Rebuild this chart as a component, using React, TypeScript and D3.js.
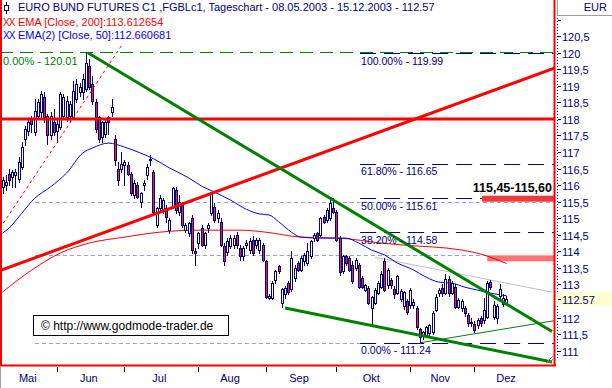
import React from "react";
import * as d3 from "d3";

// ---------- DATA ----------
const opens = [
  115.95, 116.0, 116.35, 116.25, 116.3, 116.2, 116.55, 117.4, 117.65, 118.0,
  117.6, 118.1, 118.2, 118.65, 118.1, 117.5, 117.9, 117.65, 117.75, 118.1,
  118.05, 118.1, 118.05, 118.6, 118.8, 118.8, 118.9, 119.6, 119.05, 118.5,
  118.05, 117.45, 117.55, 118.05, 118.2, 117.4, 116.5, 116.5, 116.6, 116.6,
  116.35, 115.7, 116.0, 115.5, 116.0, 116.3, 116.75, 116.4, 114.8, 115.3,
  115.25, 115.3, 114.65, 115.35, 115.85, 115.2, 115.45, 114.65, 114.55, 115.0,
  114.0, 114.25, 114.7, 114.2, 114.7, 115.15, 115.35, 115.0, 114.9, 114.15,
  113.98, 114.15, 114.2, 114.5, 114.1, 113.85, 114.2, 114.05, 114.35, 114.2,
  114.05, 114.2, 113.7, 112.6, 112.6, 113.15, 113.55, 112.45, 112.7, 113.05,
  112.85, 113.2, 113.65, 113.45, 113.7, 113.65, 113.85, 114.4, 114.55, 114.5,
  115.05, 114.95, 115.0, 115.3, 115.2, 114.4, 113.4, 113.85, 113.8, 113.6,
  113.5, 113.6, 113.2, 112.83, 112.88, 112.28, 112.43, 112.75, 112.93, 113.72,
  112.98, 113.13, 112.85, 112.75, 112.55, 112.35, 112.5, 112.38, 112.38, 112.28,
  111.67, 111.47, 111.47, 111.52, 111.57, 112.23, 112.73, 112.88, 112.73, 113.18,
  112.73, 112.93, 112.33, 112.3, 112.28, 112.08, 111.83, 111.82, 111.78, 111.98,
  111.93, 112.03, 113.08, 112.03, 112.0, 112.65, 112.4, 112.45,
];
const highs = [
  116.25, 116.3, 116.5, 116.45, 116.5, 116.85, 117.3, 117.8, 118.0, 118.1,
  118.6, 118.6, 118.85, 118.8, 118.15, 118.2, 118.3, 118.0, 118.8, 118.75,
  118.7, 118.55, 119.15, 119.2, 119.1, 119.35, 120.01, 119.8, 119.3, 118.6,
  118.1, 117.95, 118.0, 118.1, 118.6, 117.5, 116.7, 117.0, 116.75, 116.7,
  116.4, 116.15, 116.1, 115.8, 116.15, 116.65, 116.9, 116.45, 115.35, 115.7,
  115.6, 115.4, 115.0, 115.95, 115.95, 115.7, 115.5, 114.85, 114.9, 115.1,
  114.1, 114.6, 114.8, 114.6, 114.85, 115.8, 115.45, 115.25, 115.0, 114.25,
  114.4, 114.5, 114.5, 114.6, 114.2, 114.15, 114.35, 114.4, 114.45, 114.4,
  114.4, 114.25, 113.75, 112.7, 113.1, 113.45, 113.6, 112.9, 112.95, 113.1,
  114.0, 113.6, 113.7, 113.85, 113.95, 114.25, 114.35, 114.55, 114.6, 115.05,
  115.1, 115.3, 115.55, 115.6, 115.25, 114.45, 113.9, 113.9, 113.85, 113.7,
  113.8, 113.65, 113.25, 113.0, 112.95, 112.65, 112.9, 113.1, 113.4, 113.8,
  113.5, 113.2, 112.95, 113.3, 112.85, 112.8, 112.55, 112.9, 112.55, 112.35,
  111.7, 111.6, 111.75, 111.8, 112.2, 112.7, 112.9, 113.0, 113.33, 113.25,
  113.1, 113.0, 112.6, 112.55, 112.35, 112.15, 112.0, 111.9, 112.0, 112.05,
  112.6, 113.1, 113.13, 112.5, 112.4, 113.0, 112.7, 112.65,
];
const lows = [
  115.75, 115.85, 116.0, 115.95, 115.95, 116.1, 116.5, 117.2, 117.5, 117.6,
  117.5, 118.0, 118.05, 117.9, 117.25, 117.4, 117.5, 117.3, 117.7, 118.0,
  117.95, 117.95, 118.0, 118.5, 118.7, 118.6, 118.85, 118.9, 118.45, 117.6,
  117.3, 117.3, 117.45, 117.55, 118.1, 116.6, 116.0, 116.4, 116.0, 116.3,
  115.7, 115.6, 115.6, 115.33, 115.85, 116.2, 116.6, 115.1, 114.75, 115.2,
  115.15, 114.9, 114.55, 115.3, 115.15, 115.1, 114.75, 114.6, 114.45, 113.95,
  113.6, 114.1, 114.15, 114.1, 114.6, 115.1, 114.9, 114.9, 114.15, 113.6,
  113.9, 114.1, 114.1, 114.1, 113.75, 113.75, 114.1, 113.95, 113.9, 114.1,
  113.95, 113.7, 112.6, 112.55, 112.55, 113.05, 113.35, 112.33, 112.6, 112.7,
  112.8, 113.1, 113.4, 113.4, 113.6, 113.6, 113.8, 114.3, 114.3, 114.45,
  114.85, 114.9, 114.95, 115.15, 114.3, 113.3, 113.35, 113.6, 113.4, 113.05,
  113.45, 112.9, 112.9, 112.8, 112.4, 111.8, 112.4, 112.7, 112.9, 112.8,
  112.9, 112.9, 112.6, 112.7, 112.5, 112.25, 112.1, 112.3, 112.3, 111.65,
  111.24, 111.35, 111.4, 111.45, 111.5, 112.2, 112.65, 112.65, 112.7, 112.65,
  112.7, 112.3, 112.3, 112.2, 112.05, 111.75, 111.75, 111.55, 111.7, 111.75,
  111.85, 112.0, 112.85, 111.95, 111.85, 112.55, 112.35, 112.4,
];
const closes = [
  116.15, 116.1, 116.15, 116.4, 116.4, 116.7, 117.15, 117.7, 117.9, 117.85,
  118.25, 118.5, 118.75, 118.05, 117.5, 118.1, 117.6, 117.85, 118.75, 118.65,
  118.55, 118.45, 118.85, 119.05, 118.95, 119.2, 119.7, 118.97, 118.55, 117.7,
  117.4, 117.9, 117.9, 117.9, 118.35, 116.75, 116.15, 116.65, 116.7, 116.35,
  115.75, 116.05, 115.65, 115.75, 116.05, 116.55, 116.78, 115.2, 115.3, 115.6,
  115.55, 115.05, 114.95, 115.9, 115.25, 115.5, 114.8, 114.8, 114.85, 114.05,
  113.95, 114.55, 114.2, 114.55, 114.8, 115.75, 114.95, 115.15, 114.2, 113.7,
  114.3, 114.4, 114.4, 114.2, 113.85, 114.1, 114.25, 114.3, 113.95, 114.35,
  114.35, 113.75, 112.63, 112.65, 113.05, 113.4, 113.4, 112.85, 112.9, 112.78,
  113.8, 113.5, 113.45, 113.8, 113.9, 114.0, 114.3, 114.5, 114.35, 115.0,
  114.9, 115.25, 115.45, 115.2, 114.35, 113.38, 113.85, 113.65, 113.45, 113.1,
  113.75, 112.93, 112.93, 112.98, 112.43, 112.63, 112.83, 113.03, 113.33, 112.83,
  113.43, 112.98, 112.7, 113.25, 112.8, 112.78, 112.18, 112.83, 112.48, 111.72,
  111.42, 111.57, 111.72, 111.77, 112.13, 112.63, 112.83, 112.73, 113.18, 112.73,
  113.03, 112.33, 112.53, 112.5, 112.13, 111.83, 111.88, 111.62, 111.93, 111.83,
  112.23, 113.03, 112.93, 112.38, 112.35, 112.85, 112.6, 112.57,
];

const monthNames = ["Mai", "Jun", "Jul", "Aug", "Sep", "Okt", "Nov", "Dez"];
const monthStartIdx = [0, 17, 38, 61, 82, 104, 127, 147];
const monthEndIdx = [17, 38, 61, 82, 104, 127, 147, 168];

const ema50Idx = [0, 2, 6, 10, 15, 20, 25, 28, 33, 38, 43, 47, 52, 58, 62, 66, 71, 76, 80, 83, 86, 90, 93, 99, 107, 111, 115, 119, 123, 128, 132, 136, 140, 144, 148, 152, 157];
const ema50Val = [114.55, 114.7, 115.15, 115.6, 115.95, 116.37, 116.97, 117.12, 117.27, 117.15, 116.97, 116.8, 116.52, 116.22, 115.97, 115.79, 115.55, 115.27, 115.13, 115.1, 114.9, 114.58, 114.43, 114.4, 114.4, 114.25, 114.04, 113.89, 113.65, 113.44, 113.22, 113.07, 113.04, 112.92, 112.83, 112.74, 112.66];

const ema200Idx = [0, 9, 18, 27, 38, 49, 61, 74, 82, 93, 105, 118, 125, 143, 150, 157];
const ema200Val = [112.77, 113.43, 113.95, 114.25, 114.43, 114.58, 114.64, 114.64, 114.58, 114.43, 114.4, 114.25, 114.19, 114.04, 113.89, 113.63];

const fibLabels = ["100.00% - 119.99", "61.80% - 116.65", "50.00% - 115.61", "38.20% - 114.58", "0.00% - 111.24"];
const fibValues = [119.99, 116.65, 115.61, 114.58, 111.24];
const fibStartIdx = 111.4;

const greenFibValue = 120.01;
const greenFibLabel = "0.00% - 120.01";

const helperValues = [115.5, 113.9, 111.24];
const helperStartIdx = [10.1, 10.1, 10.1];
const helperEndIdx = [172.1, 151, 111.4];

// trend lines: [startIdx, startVal, endIdx, endVal]
const greenThick = [
  [26.6, 120.0, 171.2, 111.58],
  [88.0, 112.29, 171.2, 110.66],
];
const greenThin = [130.1, 111.24, 172.1, 111.91];
const redRising = [-0.78, 113.42, 172.1, 119.54];
const redHorizontal = 118.0;
const redDashed = [-0.78, 114.7, 37.2, 120.23];
const grayLine = [116, 113.82, 171.2, 112.77];

const zoneHigh = [115.5, 115.68];
const zoneHighStart = 149.4;
const zoneLow = [113.7, 113.88];
const zoneLowStart = 151;
const zoneText = "115,45-115,60";

const lastPrice = 112.57;
const axisTicks = d3.range(111, 121.001, 0.5);

const titleText = "EURO BUND FUTURES C1 ,FGBLc1, Tageschart - 08.05.2003 - 15.12.2003 - 112.57";
const ema200Text = "EMA [Close, 200]:113.612654";
const ema50Text = "EMA(2) [Close, 50]:112.660681";

// ---------- STYLE ----------
const W = 612;
const H = 388;
const plotRight = 555;
const plotBottom = 365;
const navy = "#000080";
const red = "#FF0000";
const candleRed = "#EE2228";
const green = "#008000";
const font = "'Liberation Sans', Arial, sans-serif";

export default function App() {
  const lastIdx = 157;
  const x = d3.scaleLinear().domain([0, lastIdx]).range([2.5, 2.5 + 3.21 * lastIdx]);
  const y = d3.scaleLinear().domain([111, 120]).range([350.7, 52.7]);

  const curve = d3
    .line<[number, number]>()
    .x((d) => x(d[0]))
    .y((d) => y(d[1]))
    .curve(d3.curveMonotoneX);

  const ema50Path = curve(ema50Idx.map((d, k) => [d, ema50Val[k]] as [number, number])) || "";
  const ema200Path = curve(ema200Idx.map((d, k) => [d, ema200Val[k]] as [number, number])) || "";

  const seg = (s: number[], stroke: string, width: number, dash?: string, key?: string) => (
    <line
      key={key}
      x1={x(s[0])}
      y1={y(s[1])}
      x2={x(s[2])}
      y2={y(s[3])}
      stroke={stroke}
      strokeWidth={width}
      strokeDasharray={dash}
    />
  );

  const fmt = (v: number) => (Number.isInteger(v) ? String(v) : String(v).replace(".", ","));

  return (
    <svg
      width={W}
      height={H}
      style={{ position: "absolute", left: 0, top: 0, background: "#fff" }}
      fontFamily={font}
    >
      <rect x={0} y={0} width={W} height={H} fill="#fff" />
      <defs>
        <clipPath id="plot">
          <rect x={0} y={0} width={plotRight} height={plotBottom} />
        </clipPath>
      </defs>

      <g clipPath="url(#plot)">
        {helperValues.map((v, k) => (
          <line
            key={"h" + k}
            x1={x(helperStartIdx[k])}
            x2={x(helperEndIdx[k])}
            y1={Math.round(y(v)) + 0.5}
            y2={Math.round(y(v)) + 0.5}
            stroke="#9A9AF0"
            strokeDasharray="4,3"
          />
        ))}

        <line
          x1={0}
          x2={plotRight}
          y1={Math.round(y(greenFibValue)) + 0.5}
          y2={Math.round(y(greenFibValue)) + 0.5}
          stroke={green}
          strokeWidth={1.2}
          strokeDasharray="13,7"
        />
        {fibValues.map((v, k) => (
          <line
            key={"f" + k}
            x1={x(fibStartIdx)}
            x2={plotRight}
            y1={Math.round(y(v)) + 0.5}
            y2={Math.round(y(v)) + 0.5}
            stroke={navy}
            strokeWidth={1.2}
            strokeDasharray="16,8"
          />
        ))}

        <rect
          x={x(zoneHighStart)}
          y={y(zoneHigh[1])}
          width={plotRight - x(zoneHighStart)}
          height={y(zoneHigh[0]) - y(zoneHigh[1])}
          fill="#F03A3A"
        />
        <rect
          x={x(zoneLowStart)}
          y={y(zoneLow[1])}
          width={plotRight - x(zoneLowStart)}
          height={y(zoneLow[0]) - y(zoneLow[1])}
          fill="#FF7373"
        />

        {seg(grayLine, "#C0C0C0", 1)}

        <path d={ema200Path} fill="none" stroke={red} strokeWidth={1} />
        <path d={ema50Path} fill="none" stroke="#0000FF" strokeWidth={1} />

        {closes.map((c, i) => {
          const cx = Math.round(x(i));
          const o = opens[i];
          const up = c >= o;
          const t = Math.round(y(Math.max(o, c)));
          const b = Math.round(y(Math.min(o, c)));
          return (
            <g key={"c" + i}>
              <line
                x1={cx + 0.5}
                x2={cx + 0.5}
                y1={Math.round(y(highs[i]))}
                y2={Math.round(y(lows[i])) + 1}
                stroke={navy}
                strokeWidth={1}
              />
              <rect
                x={cx - 0.5}
                y={t + 0.5}
                width={2}
                height={Math.max(1, b - t)}
                fill={up ? "#fff" : candleRed}
                stroke={navy}
                strokeWidth={1}
              />
            </g>
          );
        })}

        {seg(redDashed, red, 1, "3,3")}
        <line
          x1={0}
          x2={plotRight}
          y1={y(redHorizontal)}
          y2={y(redHorizontal)}
          stroke={red}
          strokeWidth={3}
        />
        {seg(redRising, red, 3)}
        {greenThick.map((s, k) => seg(s, green, 3, undefined, "g" + k))}
        {seg(greenThin, green, 1)}
      </g>

      {fibValues.map((v, k) => (
        <text key={"fl" + k} x={x(fibStartIdx) + 1} y={y(v) + 11.5} fontSize={10.5} fill={navy}>
          {fibLabels[k]}
        </text>
      ))}
      <text x={3} y={y(greenFibValue) + 13} fontSize={11} fill={green}>
        {greenFibLabel}
      </text>
      <text
        x={552}
        y={y(zoneHigh[1]) - 4}
        fontSize={12.5}
        fontWeight="bold"
        textAnchor="end"
        fill="#000"
      >
        {zoneText}
      </text>

      <rect x={33.5} y={315.5} width={195} height={20} fill="#fff" stroke="#000" />
      <text x={41} y={330} fontSize={12} fill="#000">
        © http://www.godmode-trader.de
      </text>

      <line x1={1} x2={1} y1={0} y2={plotBottom + 1} stroke={red} strokeWidth={2} />
      <line x1={554.5} x2={554.5} y1={0} y2={plotBottom + 1} stroke={red} strokeWidth={2} />
      <line x1={0} x2={plotRight + 1} y1={plotBottom + 0.5} y2={plotBottom + 0.5} stroke={red} strokeWidth={2} />
      <line x1={0.5} x2={0.5} y1={plotBottom + 2} y2={H} stroke="#A0A0A0" />
      <path d="M546,363 L553,356 M549,363 L553,359" stroke="#808080" strokeWidth={1} />

      <g>
        <line x1={6.5} x2={6.5} y1={2} y2={14} stroke={navy} />
        <rect x={4.5} y={5.5} width={4} height={5} fill="#fff" stroke={navy} />
        <text x={18} y={11} fontSize={11} fill={navy}>
          {titleText}
        </text>
        <text x={3} y={26} fontSize={10} fill={red} letterSpacing={-1}>
          XX
        </text>
        <text x={18} y={26} fontSize={11} fill={red}>
          {ema200Text}
        </text>
        <text x={3} y={38.5} fontSize={10} fill="#0000FF" letterSpacing={-1}>
          XX
        </text>
        <text x={18} y={38.5} fontSize={11} fill="#0000FF">
          {ema50Text}
        </text>
      </g>

      <line x1={557.5} x2={557.5} y1={0} y2={15} stroke="#A0A0A0" />
      <line x1={557} x2={W} y1={15.5} y2={15.5} stroke="#A0A0A0" />
      <text x={607} y={11} fontSize={11} fill={navy} textAnchor="end">
        EUR
      </text>
      <line x1={557.5} x2={557.5} y1={18} y2={360} stroke={navy} strokeDasharray="1,2" />
      {axisTicks.map((v) => {
        const ty = Math.round(y(v)) + 0.5;
        const hidden = Math.abs(v - lastPrice) < 0.2;
        return (
          <g key={"t" + v}>
            <line x1={558} x2={561} y1={ty} y2={ty} stroke={navy} />
            {v <= 120.5 && !hidden && (
              <text x={562} y={ty + 4} fontSize={11} fill={navy}>
                {fmt(v)}
              </text>
            )}
          </g>
        );
      })}
      <rect x={557} y={Math.round(y(lastPrice)) - 7} width={55} height={14} fill="#FFFFD0" />
      <line
        x1={558}
        x2={561}
        y1={Math.round(y(lastPrice)) + 0.5}
        y2={Math.round(y(lastPrice)) + 0.5}
        stroke={navy}
      />
      <text x={562} y={Math.round(y(lastPrice)) + 4.5} fontSize={11} fill={navy}>
        {lastPrice.toFixed(2)}
      </text>

      {monthStartIdx.slice(1).map((idx, k) => (
        <line
          key={"mt" + k}
          x1={Math.round(x(idx)) + 0.5}
          x2={Math.round(x(idx)) + 0.5}
          y1={plotBottom + 2}
          y2={plotBottom + 7}
          stroke={navy}
        />
      ))}
      {monthNames.map((m, k) => (
        <text
          key={"m" + k}
          x={(x(monthStartIdx[k]) + x(monthEndIdx[k])) / 2 - 2}
          y={382}
          fontSize={11}
          fill={navy}
          textAnchor="middle"
        >
          {m}
        </text>
      ))}
    </svg>
  );
}
